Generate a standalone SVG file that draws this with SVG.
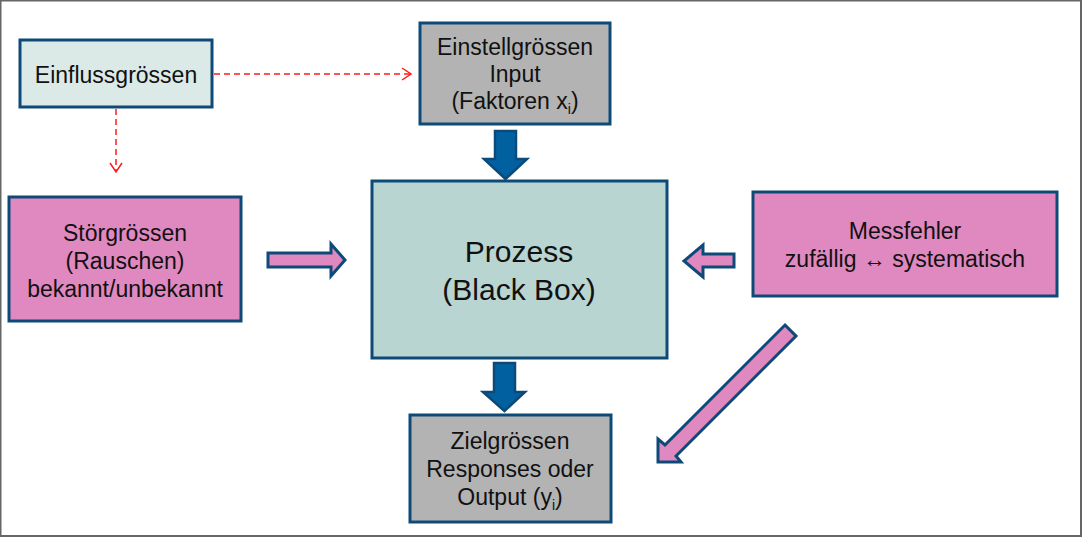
<svg xmlns="http://www.w3.org/2000/svg" width="1082" height="537" viewBox="0 0 1082 537">
<defs>
<style>
.box{stroke:#0e4a78;stroke-width:3}
.t{font-family:"Liberation Sans",Arial,sans-serif;font-size:23px;fill:#111;text-anchor:middle}
.big{font-size:30px}
.blue{fill:#0060a0;stroke:#0e4a78;stroke-width:2.5;stroke-linejoin:miter}
.pink{fill:#e088c0;stroke:#0e4a78;stroke-width:3;stroke-linejoin:miter}
.dash{stroke:#ff1a1a;stroke-width:1.5;stroke-dasharray:6 4;fill:none}
.head{stroke:#ff1a1a;stroke-width:1.5;fill:none}
</style>
</defs>
<rect x="0.5" y="0.5" width="1080.5" height="535.5" fill="#ffffff" stroke="#666666" stroke-width="2"/>

<g id="connectors">
  <line class="dash" x1="214" y1="74" x2="410" y2="74"/>
  <polyline class="head" points="402,68 411,74 402,80"/>
  <line class="dash" x1="116" y1="109" x2="116" y2="171"/>
  <polyline class="head" points="110,163 116,172 122,163"/>
  <polygon class="blue" points="495,131 516,131 516,159 527,159 505.5,179 484,159 495,159"/>
  <polygon class="blue" points="494,363 515,363 515,392 525,392 504.5,411 483,392 494,392"/>
  <polygon class="pink" points="268,253 331,253 331,244 345,260 331,276 331,267 268,267"/>
  <polygon class="pink" points="734,254 703,254 703,245 684,261 703,277 703,267 734,267"/>
  <polygon class="pink" points="785,325 796,336 676,456 681,462 658,462 658,439 665,445"/>
</g>

<g id="einfluss">
  <rect class="box" x="20" y="40" width="192" height="67" fill="#dbeae7"/>
  <text class="t" x="116" y="83">Einflussgrössen</text>
</g>

<g id="einstell">
  <rect class="box" x="420" y="23" width="190" height="101" fill="#b3b3b3"/>
  <text class="t" x="515" y="55">Einstellgrössen</text>
  <text class="t" x="515" y="82">Input</text>
  <text class="t" x="515" y="109">(Faktoren x<tspan font-size="14" dy="5">i</tspan><tspan dy="-5">)</tspan></text>
</g>

<g id="prozess">
  <rect class="box" x="372" y="181" width="295" height="177" fill="#b8d5d2"/>
  <text class="t big" x="519" y="262">Prozess</text>
  <text class="t big" x="519" y="300">(Black Box)</text>
</g>

<g id="stoer">
  <rect class="box" x="9" y="197" width="232" height="124" fill="#e088c0"/>
  <text class="t" x="125" y="241">Störgrössen</text>
  <text class="t" x="125" y="269">(Rauschen)</text>
  <text class="t" x="125" y="297">bekannt/unbekannt</text>
</g>

<g id="messfehler">
  <rect class="box" x="753" y="192" width="304" height="104" fill="#e088c0"/>
  <text class="t" x="905" y="239">Messfehler</text>
  <text class="t" x="905" y="267">zufällig ↔ systematisch</text>
</g>

<g id="ziel">
  <rect class="box" x="410" y="415" width="201" height="107" fill="#b3b3b3"/>
  <text class="t" x="510" y="449">Zielgrössen</text>
  <text class="t" x="510" y="477">Responses oder</text>
  <text class="t" x="510" y="505">Output (y<tspan font-size="14" dy="5">i</tspan><tspan dy="-5">)</tspan></text>
</g>
</svg>
